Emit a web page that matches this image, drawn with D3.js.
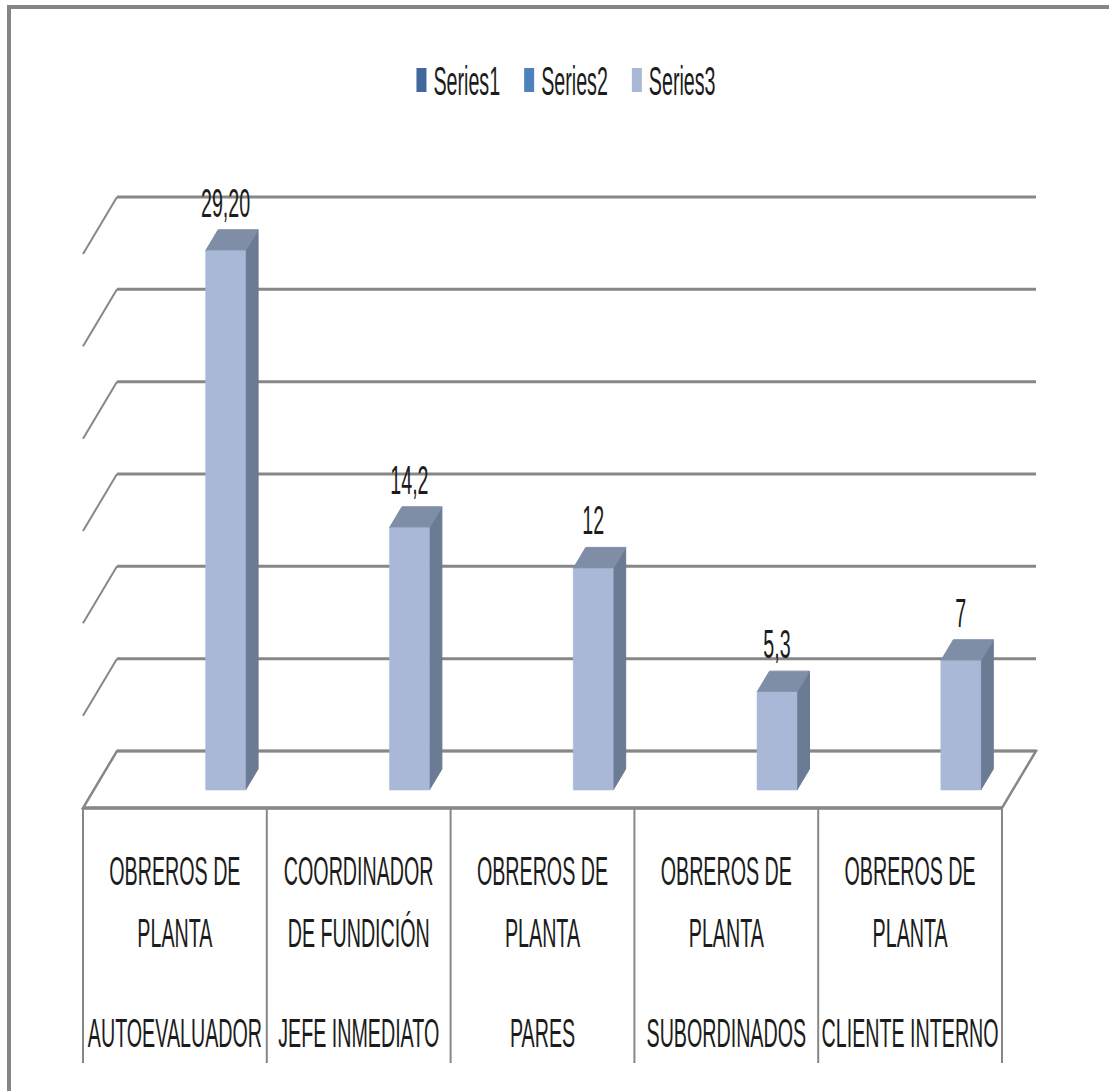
<!DOCTYPE html>
<html>
<head>
<meta charset="utf-8">
<script src="https://cdn.jsdelivr.net/npm/d3@7"></script>
<style>
  body { margin: 0; background: #fff; }
  text { font-family: "Liberation Sans", Arial, sans-serif; fill: #1c1c1c; }
</style>
</head>
<body>
<div id="chart"></div>
<script>
const _WIDTH = 1109
const _HEIGHT = 1091

// data
const categoriesTop = ["OBREROS DE", "COORDINADOR", "OBREROS DE", "OBREROS DE", "OBREROS DE"]
const categoriesMid = ["PLANTA", "DE FUNDICIÓN", "PLANTA", "PLANTA", "PLANTA"]
const categoriesBottom = ["AUTOEVALUADOR", "JEFE INMEDIATO", "PARES", "SUBORDINADOS", "CLIENTE INTERNO"]
const seriesNames = ["Series1", "Series2", "Series3"]
const series1 = [null, null, null, null, null]
const series2 = [null, null, null, null, null]
const series3 = [29.2, 14.2, 12, 5.3, 7]
const series3Labels = ["29,20", "14,2", "12", "5,3", "7"]
const yTicks = [0, 5, 10, 15, 20, 25, 30]

const seriesColors = ["#41699d", "#4f81bd", "#a9b8d6"]
const barFront = "#a9b8d6", barTop = "#7f8da7", barSide = "#6c7b94"
const gridColor = "#878787"

// 3D geometry
const DEPTH_X = 34, DEPTH_Y = 57
const FRONT_LEFT = 83, FRONT_RIGHT = 1002
const TEXT_SX = 0.48
const FONT = 41

const svg = d3.select("#chart")
    .append("svg")
    .attr("width", _WIDTH)
    .attr("height", _HEIGHT)

// yScale gives the back wall position of a value
const yScale = d3.scaleLinear().domain([0, 30]).range([751, 197])
const xScale = d3.scaleBand().domain(d3.range(categoriesBottom.length)).range([FRONT_LEFT, FRONT_RIGHT])
const xSeries = d3.scaleBand().domain(seriesNames).range([0, xScale.bandwidth()]).paddingOuter(0.8)

// d = depth fraction, 0 = front edge, 1 = back wall
const proj = (x, d, v) => [x + d * DEPTH_X, yScale(v) + (1 - d) * DEPTH_Y]

// outer border (top and left only visible)
svg.append("path")
    .attr("d", `M9,${_HEIGHT} V7 H${_WIDTH}`)
    .attr("fill", "none")
    .attr("stroke", "#858585")
    .attr("stroke-width", 4)

//  Back wall gridlines + side wall diagonals
// ===================================
const grid = svg.append("g").attr("class", "grid")
yTicks.filter(t => t > 0).forEach(t => {
    const [bx, by] = proj(FRONT_LEFT, 1, t)
    const [ex] = proj(FRONT_RIGHT, 1, t)
    grid.append("line")
        .attr("x1", bx).attr("x2", ex)
        .attr("y1", by).attr("y2", by)
        .attr("stroke", gridColor).attr("stroke-width", 3)
    const [fx, fy] = proj(FRONT_LEFT, 0, t)
    grid.append("line")
        .attr("x1", bx).attr("y1", by)
        .attr("x2", fx).attr("y2", fy)
        .attr("stroke", gridColor).attr("stroke-width", 2)
})

//  Floor
// ===================================
const floorPts = [proj(FRONT_LEFT, 1, 0), proj(FRONT_RIGHT, 1, 0), proj(FRONT_RIGHT, 0, 0), proj(FRONT_LEFT, 0, 0)]
svg.append("path")
    .attr("d", d3.line()(floorPts) + "Z")
    .attr("fill", "#fff")
    .attr("stroke", gridColor)
    .attr("stroke-width", 2.5)
svg.append("line")
    .attr("x1", floorPts[0][0]).attr("x2", floorPts[1][0])
    .attr("y1", floorPts[0][1]).attr("y2", floorPts[1][1])
    .attr("stroke", gridColor).attr("stroke-width", 3)
svg.append("line")
    .attr("x1", floorPts[3][0]).attr("x2", floorPts[2][0])
    .attr("y1", floorPts[3][1]).attr("y2", floorPts[2][1])
    .attr("stroke", gridColor).attr("stroke-width", 3.5)

//  Bars
// ===================================
const D0 = 0.316, D1 = 0.684
const allSeries = [series1, series2, series3]
const bars = svg.append("g").attr("class", "bars")
allSeries.forEach((vals, si) => {
    vals.forEach((v, i) => {
        if (v == null) return
        const x0 = xScale(i) + xSeries(seriesNames[si])
        const x1 = x0 + xSeries.bandwidth()
        const fbl = proj(x0, D0, 0), fbr = proj(x1, D0, 0)
        const ftl = proj(x0, D0, v), ftr = proj(x1, D0, v)
        const btl = proj(x0, D1, v), btr = proj(x1, D1, v), bbr = proj(x1, D1, 0)
        bars.append("path")
            .attr("d", d3.line()([fbr, ftr, btr, bbr]) + "Z")
            .attr("fill", barSide).attr("stroke", barSide).attr("stroke-width", 1)
        bars.append("path")
            .attr("d", d3.line()([ftl, btl, btr, ftr]) + "Z")
            .attr("fill", barTop).attr("stroke", barTop).attr("stroke-width", 1)
        bars.append("path")
            .attr("d", d3.line()([fbl, ftl, ftr, fbr]) + "Z")
            .attr("fill", barFront).attr("stroke", barFront).attr("stroke-width", 0.5)
        const lx = (fbl[0] + fbr[0]) / 2
        bars.append("text")
            .attr("transform", `translate(${lx},${btl[1] - 13}) scale(${TEXT_SX},1)`)
            .attr("text-anchor", "middle")
            .attr("font-size", FONT)
            .text(series3Labels[i])
    })
})

//  Data table
// ===================================
const table = svg.append("g").attr("class", "table")
const frontY = proj(FRONT_LEFT, 0, 0)[1]
d3.range(categoriesBottom.length + 1).forEach(i => {
    const x = i < categoriesBottom.length ? xScale(i) : FRONT_RIGHT
    table.append("line")
        .attr("x1", x).attr("x2", x)
        .attr("y1", frontY).attr("y2", 1063)
        .attr("stroke", gridColor).attr("stroke-width", 2)
})
const rows = [[categoriesTop, 885], [categoriesMid, 947], [categoriesBottom, 1047]]
rows.forEach(([labels, y]) => {
    labels.forEach((t, i) => {
        table.append("text")
            .attr("transform", `translate(${xScale(i) + xScale.bandwidth() / 2},${y}) scale(${TEXT_SX},1)`)
            .attr("text-anchor", "middle")
            .attr("font-size", FONT)
            .text(t)
    })
})

//  Legend
// ===================================
const legend = svg.append("g").attr("class", "legend")
let lx = 0
seriesNames.forEach((name, i) => {
    const item = legend.append("g").attr("transform", `translate(${lx},0)`)
    item.append("rect")
        .attr("x", 0).attr("y", 68)
        .attr("width", 10).attr("height", 24)
        .attr("fill", seriesColors[i])
    const txt = item.append("text")
        .attr("transform", `translate(17,95) scale(${TEXT_SX},1)`)
        .attr("font-size", FONT)
        .text(name)
    const w = txt.node().getComputedTextLength() * TEXT_SX
    lx += 17 + w + 24
})
const legendW = lx - 24
legend.attr("transform", `translate(${566 - legendW / 2},0)`)
</script>
</body>
</html>
